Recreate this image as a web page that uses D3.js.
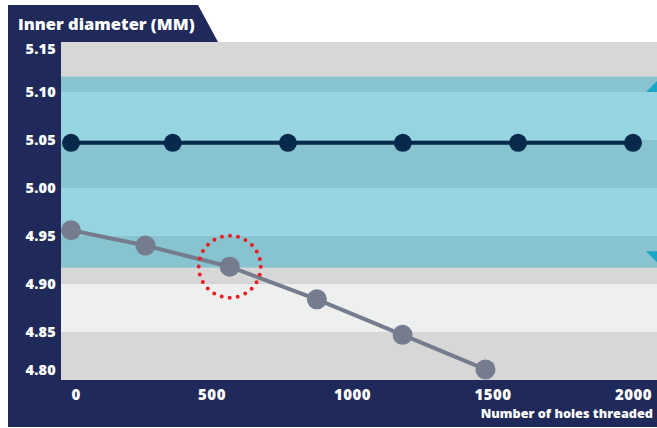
<!DOCTYPE html>
<html>
<head>
<meta charset="utf-8">
<script src="https://cdn.jsdelivr.net/npm/d3@7"></script>
<style>
  html, body { margin: 0; padding: 0; background: #ffffff; }
  svg { display: block; }
  .num { font-family: "Open Sans", sans-serif; font-weight: 800; fill: #ffffff; }
</style>
</head>
<body>
<svg id="chart" width="657" height="428"></svg>
<script>
// Axis ticks
const yTickValues = [4.80, 4.85, 4.90, 4.95, 5.00, 5.05, 5.10, 5.15];
const xTickValues = [0, 500, 1000, 1500, 2000];

// Reference tap: diameter stays on nominal
const referenceHoles    = [0, 362, 772, 1181, 1591, 2000];
const referenceDiameter = [5.047, 5.047, 5.047, 5.047, 5.047, 5.047];

// Worn tap: diameter shrinks with use
const wornHoles    = [0, 265, 565, 875, 1180, 1475];
const wornDiameter = [4.956, 4.940, 4.918, 4.884, 4.847, 4.811];

// Tolerance zone and its edge markers
const toleranceBand = [4.917, 5.116];
const limitMarkers  = [5.10, 4.934];
const highlightIndex = 2;

const titleText  = "Inner diameter (MM)";
const xTitleText = "Number of holes threaded";

const W = 657, H = 428;
const plot = { left: 61, right: 657, top: 42, bottom: 380 };

const colors = {
  navy: "#202a5a",
  grayDark: "#d7d7d7",
  grayLight: "#eef0ef",
  tealDark: "#87c4cf",
  tealLight: "#97d4e1",
  refLine: "#07294b",
  wornLine: "#747c8e",
  marker: "#18a7c7",
  highlight: "#ec1c24"
};

const svg = d3.select("#chart");

const x = d3.scaleLinear().domain([0, 2000]).range([71, 633]);
const y = d3.scaleLinear().domain([4.80, 5.152]).range([plot.bottom, plot.top]);

// Dark panel with the title tab
svg.append("path")
  .attr("d", `M8,5 H198 L218,${plot.top} H${W} V427 H8 Z`)
  .attr("fill", colors.navy);

svg.append("text")
  .attr("x", 18).attr("y", 30)
  .attr("font-family", "'Open Sans', sans-serif")
  .attr("font-weight", 800)
  .attr("font-size", 16.5)
  .attr("fill", "#ffffff")
  .text(titleText);

// Alternating stripes between y ticks, teal inside the tolerance band
const clipId = "plot-clip";
svg.append("clipPath").attr("id", clipId)
  .append("rect")
  .attr("x", plot.left).attr("y", plot.top)
  .attr("width", plot.right - plot.left).attr("height", plot.bottom - plot.top);

const bands = svg.append("g").attr("clip-path", `url(#${clipId})`);
const stripes = yTickValues.slice(0, -1).map((lo, i) => ({
  lo,
  hi: i === yTickValues.length - 2 ? y.domain()[1] : yTickValues[i + 1],
  dark: i % 2 === 0
}));

stripes.forEach(s => {
  bands.append("rect")
    .attr("x", plot.left).attr("width", plot.right - plot.left)
    .attr("y", y(s.hi)).attr("height", y(s.lo) - y(s.hi))
    .attr("fill", s.dark ? colors.grayDark : colors.grayLight);
  const lo = Math.max(s.lo, toleranceBand[0]);
  const hi = Math.min(s.hi, toleranceBand[1]);
  if (hi > lo) {
    bands.append("rect")
      .attr("x", plot.left).attr("width", plot.right - plot.left)
      .attr("y", y(hi)).attr("height", y(lo) - y(hi))
      .attr("fill", s.dark ? colors.tealDark : colors.tealLight);
  }
});

// Tolerance edge markers at the right border
const mk = 11;
bands.selectAll("path.limit")
  .data(limitMarkers)
  .join("path")
  .attr("class", "limit")
  .attr("fill", colors.marker)
  .attr("d", (d, i) => {
    const yy = y(d);
    const tip = i === 0 ? yy - mk : yy + mk;
    return `M${plot.right - mk},${yy} L${plot.right},${yy} L${plot.right},${tip} Z`;
  });

// Y axis
const yAxis = svg.append("g")
  .attr("transform", `translate(56,0)`)
  .call(d3.axisLeft(y).tickValues(yTickValues).tickSize(0).tickPadding(0).tickFormat(d3.format(".2f")));
yAxis.select(".domain").remove();
yAxis.selectAll(".tick")
  .attr("transform", d => `translate(0,${Math.max(plot.top + 7.5, Math.min(plot.bottom - 9.5, y(d)))})`);
yAxis.selectAll("text")
  .attr("class", "num")
  .attr("font-size", 14.5)
  .attr("letter-spacing", 0.2);

// X axis
const xAxis = svg.append("g")
  .attr("transform", `translate(0,${plot.bottom})`)
  .call(d3.axisBottom(x).tickValues(xTickValues).tickSize(0).tickPadding(9.4).tickFormat(d3.format("d")));
xAxis.select(".domain").remove();
xAxis.selectAll("text")
  .attr("class", "num")
  .attr("font-size", 15)
  .attr("letter-spacing", 0.5)
  .attr("text-anchor", (d, i) => i === 0 ? "start" : "middle");

svg.append("text")
  .attr("x", 653).attr("y", 418)
  .attr("text-anchor", "end")
  .attr("class", "num")
  .attr("font-size", 12.7)
  .text(xTitleText);

// Series
const line = d3.line().x(d => x(d[0])).y(d => y(d[1]));
const refPts  = referenceHoles.map((h, i) => [h, referenceDiameter[i]]);
const wornPts = wornHoles.map((h, i) => [h, wornDiameter[i]]);

const series = svg.append("g").attr("clip-path", `url(#${clipId})`);

series.append("path").datum(wornPts)
  .attr("d", line).attr("fill", "none")
  .attr("stroke", colors.wornLine).attr("stroke-width", 4);
series.selectAll("circle.worn").data(wornPts).join("circle")
  .attr("class", "worn")
  .attr("cx", d => x(d[0])).attr("cy", d => y(d[1])).attr("r", 10)
  .attr("fill", colors.wornLine);

series.append("path").datum(refPts)
  .attr("d", line).attr("fill", "none")
  .attr("stroke", colors.refLine).attr("stroke-width", 4);
series.selectAll("circle.ref").data(refPts).join("circle")
  .attr("class", "ref")
  .attr("cx", d => x(d[0])).attr("cy", d => y(d[1])).attr("r", 9)
  .attr("fill", colors.refLine);

// Dotted ring around the highlighted worn point
const ringR = 31;
const hp = wornPts[highlightIndex];
svg.append("circle")
  .attr("cx", x(hp[0])).attr("cy", y(hp[1])).attr("r", ringR)
  .attr("fill", "none")
  .attr("stroke", colors.highlight)
  .attr("stroke-width", 4)
  .attr("stroke-linecap", "round")
  .attr("stroke-dasharray", `0 ${(2 * Math.PI * ringR) / 24}`);
</script>
</body>
</html>
